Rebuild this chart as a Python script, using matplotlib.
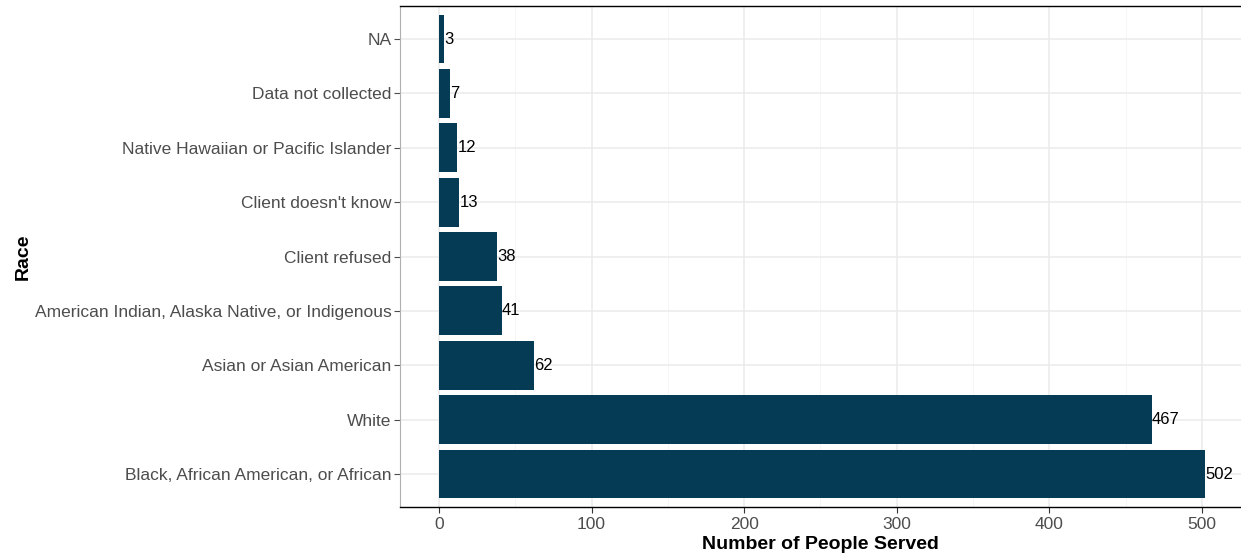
import matplotlib.pyplot as plt
from matplotlib.ticker import MultipleLocator

plt.rcParams['font.family'] = ['Liberation Sans', 'DejaVu Sans']

races = ["Black, African American, or African", "White", "Asian or Asian American",
         "American Indian, Alaska Native, or Indigenous", "Client refused",
         "Client doesn't know", "Native Hawaiian or Pacific Islander",
         "Data not collected", "NA"]
counts = [502, 467, 62, 41, 38, 13, 12, 7, 3]

bar_color = '#053b55'

fig = plt.figure(figsize=(12.41, 5.56), dpi=100)
ax = fig.add_axes([0.3223, 0.0888, 0.6777, 0.8997])

pos = list(range(1, len(races) + 1))
ax.barh(pos, counts, height=0.9, color=bar_color, zorder=3)
for p, c in zip(pos, counts):
    ax.text(c + 0.3, p, str(c), va='center', ha='left', fontsize=12, color='black', zorder=4)

ax.set_xlim(-25.6, 525.6)
ax.set_ylim(0.4, 9.6)
ax.set_yticks(pos)
ax.set_yticklabels(races)
ax.xaxis.set_major_locator(MultipleLocator(100))
ax.xaxis.set_minor_locator(MultipleLocator(50))

ax.grid(True, which='major', color='#ebebeb', linewidth=1.1, zorder=0)
ax.grid(True, which='minor', axis='x', color='#f4f4f4', linewidth=0.6, zorder=0)
ax.set_axisbelow(True)

for s in ['top', 'bottom']:
    ax.spines[s].set_color('black')
    ax.spines[s].set_linewidth(1.0)
ax.spines['left'].set_color('#b0b0b0')
ax.spines['right'].set_visible(False)

ax.tick_params(axis='both', which='major', labelsize=12.5, labelcolor='#4d4d4d', length=4)
ax.tick_params(axis='y', color='#4d4d4d', pad=2)
ax.tick_params(axis='x', color='#333333')
ax.tick_params(which='minor', length=0)

ax.set_xlabel("Number of People Served", fontsize=14, fontweight='bold', labelpad=3)
ax.set_ylabel("Race", fontsize=14, fontweight='bold')
ax.yaxis.set_label_coords((32 - 400) / (0.6777 * 1241), 0.5)

fig.savefig('out.png', dpi=100)
